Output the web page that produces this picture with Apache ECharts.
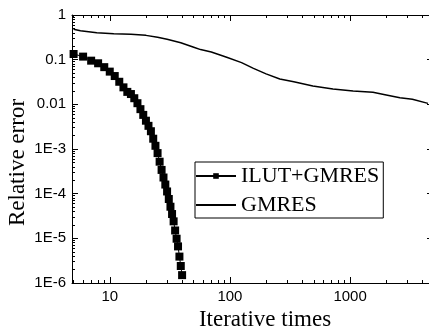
<!DOCTYPE html>
<html>
<head>
<meta charset="utf-8">
<script src="https://cdn.jsdelivr.net/npm/echarts@6.0.0/dist/echarts.min.js"></script>
<style>
  html, body { margin: 0; padding: 0; background: #fff; }
  #chart { width: 429px; height: 330px; }
</style>
</head>
<body>
<div id="chart"></div>
<script>
// ILUT-preconditioned GMRES: relative error per iteration
const iterILUT = [5, 6, 7, 8, 9, 10, 11, 12, 13, 14, 15, 16, 17, 18, 19, 20, 21, 22, 23, 24,
                  25, 26, 27, 28, 29, 30, 31, 32, 33, 34, 35, 36, 37, 38, 39, 40];
const errILUT = [0.134, 0.117, 0.095, 0.083, 0.068, 0.054, 0.043, 0.032, 0.024, 0.019,
                 0.017, 0.0137, 0.0106, 0.0078, 0.0058, 0.0043, 0.0033, 0.0025, 0.0017, 0.00118,
                 0.00081, 0.00052, 0.00034, 0.00023, 0.00016, 0.000112, 7.6e-5, 5.1e-5, 3.5e-5, 2.4e-5,
                 1.5e-5, 9.8e-6, 6.6e-6, 3.9e-6, 2.4e-6, 1.5e-6];

// Plain GMRES: relative error per iteration
const iterGMRES = [5, 5.7, 7.8, 10.8, 15, 20, 25, 30, 39, 50, 57, 70, 94, 125, 157, 200,
                   260, 340, 490, 720, 1060, 1550, 2000, 2600, 3300, 4450];
const errGMRES = [0.48, 0.445, 0.40, 0.38, 0.37, 0.35, 0.316, 0.286, 0.24, 0.19, 0.168, 0.148,
                  0.113, 0.086, 0.064, 0.048, 0.037, 0.032, 0.0258, 0.0221, 0.020, 0.0186,
                  0.0162, 0.014, 0.013, 0.0105];

// Axis ticks and labels
const xTickValues = [10, 100, 1000];
const xTickLabels = ['10', '100', '1000'];
const yTickValues = [1e-6, 1e-5, 1e-4, 1e-3, 0.01, 0.1, 1];
const yTickLabels = ['1E-6', '1E-5', '1E-4', '1E-3', '0.01', '0.1', '1'];
const xMin = 4.85, xMax = 4900;
const yMin = 1e-6, yMax = 1;

// Minor ticks at 2..9 within each decade
function minorTicks(lo, hi) {
  const out = [];
  for (let d = Math.floor(Math.log10(lo)); d <= Math.ceil(Math.log10(hi)); d++) {
    for (let m = 2; m <= 9; m++) {
      const v = m * Math.pow(10, d);
      if (v > lo && v < hi) out.push(v);
    }
  }
  return out;
}
const xMinorValues = minorTicks(xMin, xMax);
const yMinorValues = minorTicks(yMin, yMax);

function labelFor(values, labels) {
  return function (v) {
    const i = values.findIndex(t => Math.abs(Math.log10(t) - Math.log10(v)) < 1e-6);
    return i >= 0 ? labels[i] : '';
  };
}

const BLACK = '#000';
const lineStyle = { color: BLACK, width: 1 };
const tickFont = { fontFamily: 'Liberation Sans', fontSize: 15, color: BLACK };
const titleFont = { fontFamily: 'Liberation Serif', fontSize: 23, color: BLACK };

function xAxisDef(grid, pos, major, withLabel) {
  return {
    gridIndex: grid, type: 'log', position: pos, min: xMin, max: xMax,
    axisLine: { show: major, lineStyle },
    axisTick: { show: true, inside: true, length: major ? 6 : 3, lineStyle,
                customValues: major ? xTickValues : xMinorValues },
    axisLabel: withLabel
      ? Object.assign({ show: true, margin: 6, customValues: xTickValues,
                        formatter: labelFor(xTickValues, xTickLabels) }, tickFont)
      : { show: false },
    splitLine: { show: false },
    minorTick: { show: false }
  };
}
function yAxisDef(grid, pos, major, withLabel) {
  return {
    gridIndex: grid, type: 'log', position: pos, min: yMin, max: yMax,
    axisLine: { show: major, lineStyle },
    axisTick: { show: true, inside: true, length: major ? 6 : 3, lineStyle,
                customValues: major ? yTickValues : yMinorValues },
    axisLabel: withLabel
      ? Object.assign({ show: true, margin: 6, customValues: yTickValues,
                        formatter: labelFor(yTickValues, yTickLabels) }, tickFont)
      : { show: false },
    splitLine: { show: false },
    minorTick: { show: false }
  };
}

const xBottom = xAxisDef(0, 'bottom', true, true);
Object.assign(xBottom, {
  name: 'Iterative times', nameLocation: 'middle', nameGap: 24,
  nameTextStyle: Object.assign({ padding: [0, 0, 0, 25] }, titleFont)
});
const yLeft = yAxisDef(0, 'left', true, true);
Object.assign(yLeft, {
  name: 'Relative error', nameLocation: 'middle', nameGap: 43, nameMoveOverlap: false,
  nameTextStyle: Object.assign({ padding: [0, 27, 0, 0] }, titleFont)
});

const gridBox = { left: 72, top: 15, width: 361, height: 268,
                  containLabel: false, outerBoundsMode: 'none' };

const chart = echarts.init(document.getElementById('chart'), null, { renderer: 'canvas' });
chart.setOption({
  animation: false,
  backgroundColor: '#fff',
  grid: [Object.assign({}, gridBox), Object.assign({}, gridBox)],
  xAxis: [xBottom, xAxisDef(0, 'top', true, false),
          xAxisDef(1, 'bottom', false, false), xAxisDef(1, 'top', false, false)],
  yAxis: [yLeft, yAxisDef(0, 'right', true, false),
          yAxisDef(1, 'left', false, false), yAxisDef(1, 'right', false, false)],
  legend: {
    orient: 'vertical', left: 195, top: 162,
    itemWidth: 40, itemHeight: 7, itemGap: 7,
    padding: [3, 4, 2, 0],
    borderColor: BLACK, borderWidth: 1,
    selectedMode: false,
    textStyle: { fontFamily: 'Liberation Serif', fontSize: 22, color: BLACK, lineHeight: 22 },
    data: ['ILUT+GMRES', { name: 'GMRES', itemStyle: { opacity: 0 } }]
  },
  series: [
    {
      name: 'ILUT+GMRES', type: 'line', xAxisIndex: 0, yAxisIndex: 0,
      data: iterILUT.map((x, i) => [x, errILUT[i]]),
      symbol: 'rect', symbolSize: 8, showAllSymbol: true,
      itemStyle: { color: BLACK },
      lineStyle: { color: BLACK, width: 1 },
      z: 3
    },
    {
      name: 'GMRES', type: 'line', xAxisIndex: 0, yAxisIndex: 0,
      data: iterGMRES.map((x, i) => [x, errGMRES[i]]),
      symbol: 'none',
      itemStyle: { color: BLACK },
      lineStyle: { color: BLACK, width: 1.5 },
      z: 2
    }
  ]
});
</script>
</body>
</html>
